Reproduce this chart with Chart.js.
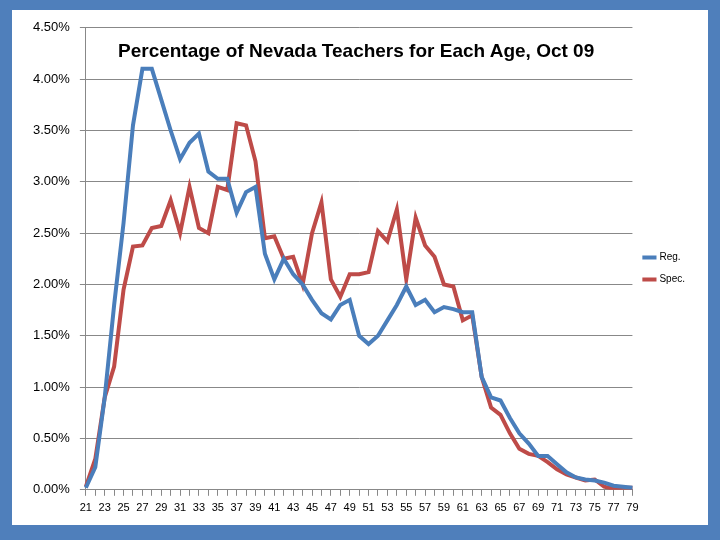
<!DOCTYPE html><html><head><script src="https://cdn.jsdelivr.net/npm/chart.js@4"></script>
<style>body{margin:0;background:#4f7fbb;width:720px;height:540px;overflow:hidden}
#p{position:absolute;left:12px;top:10px;width:696px;height:515px;background:#fff}
#t{position:absolute;left:118px;top:40px;font:bold 19px "Liberation Sans",Arial;color:#000}</style></head><body>
<div id="p"><canvas id="c" width="696" height="515"></canvas></div><div id="t">Percentage of Nevada Teachers for Each Age, Oct 09</div>
<script>
const ages=[];for(let a=21;a<=79;a++)ages.push(String(a));
const reg=[0.02,0.22,0.9,1.8,2.6,3.55,4.1,4.1,3.8,3.5,3.22,3.38,3.47,3.1,3.03,3.03,2.7,2.9,2.95,2.3,2.05,2.25,2.1,2.0,1.85,1.72,1.66,1.8,1.85,1.5,1.42,1.5,1.65,1.8,1.98,1.8,1.85,1.73,1.78,1.76,1.73,1.73,1.1,0.9,0.87,0.7,0.55,0.45,0.33,0.33,0.25,0.17,0.12,0.1,0.09,0.07,0.04,0.03,0.02];
const spec=[0.03,0.3,0.9,1.2,1.95,2.37,2.38,2.55,2.57,2.82,2.5,2.95,2.55,2.5,2.95,2.92,3.57,3.55,3.2,2.45,2.47,2.25,2.27,2.0,2.5,2.8,2.05,1.88,2.1,2.1,2.12,2.52,2.42,2.73,2.05,2.65,2.38,2.27,2.0,1.98,1.65,1.7,1.1,0.8,0.73,0.55,0.4,0.35,0.33,0.27,0.2,0.15,0.12,0.09,0.1,0.03,0.01,0.02,0.02];
new Chart(document.getElementById('c'),{type:'line',data:{labels:ages,datasets:[
{label:'Reg.',data:reg,borderColor:'#4a7ebb',borderWidth:4,pointRadius:0,tension:0},
{label:'Spec.',data:spec,borderColor:'#be4b48',borderWidth:4,pointRadius:0,tension:0}]},
options:{responsive:false,animation:false,layout:{padding:{top:6,left:11,right:13,bottom:4}},
plugins:{legend:{position:'right',labels:{usePointStyle:true,pointStyle:'line',boxWidth:30,padding:12,font:{size:10,family:'Liberation Sans'},color:'#000'}}},
scales:{x:{offset:false,grid:{drawOnChartArea:false,color:'#888',tickLength:6},border:{color:'#888'},
ticks:{autoSkip:false,maxRotation:0,padding:6,color:'#000',font:{size:11,family:'Liberation Sans'},callback:(v,i)=>i%2==0?ages[i]:''}},
y:{min:0,max:4.5,grid:{color:'#888',tickLength:6},border:{color:'#888'},ticks:{stepSize:0.5,padding:10,color:'#000',font:{size:13,family:'Liberation Sans'},callback:v=>v.toFixed(2)+'%'}}}}});
</script></body></html>
